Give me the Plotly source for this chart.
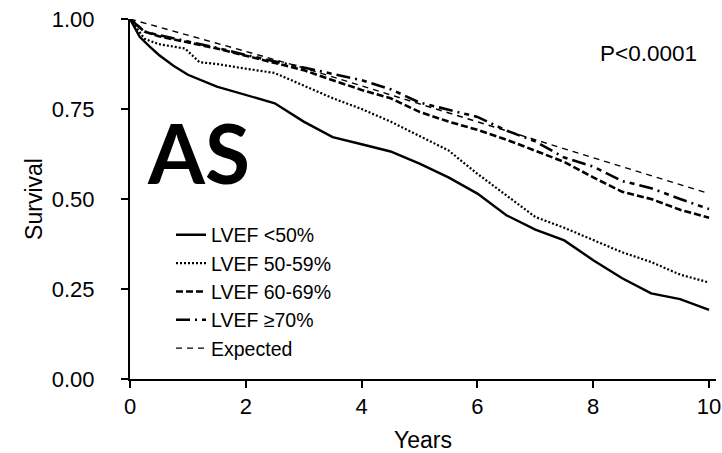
import plotly.graph_objects as go

# ---- data ----
t_lt50 = [0, 0.17, 0.35, 0.5, 0.75, 1.0, 1.5, 2.0, 2.5, 3.0, 3.5, 4.0, 4.5, 5.0, 5.5, 6.0, 6.5, 7.0, 7.5, 8.0, 8.5, 9.0, 9.5, 10.0]
s_lt50 = [1.0, 0.95, 0.922, 0.9, 0.87, 0.845, 0.812, 0.79, 0.766, 0.715, 0.672, 0.652, 0.632, 0.598, 0.56, 0.515, 0.455, 0.415, 0.385, 0.33, 0.28, 0.238, 0.222, 0.192]

t_50_59 = [0, 0.25, 0.5, 0.95, 1.2, 1.5, 2.0, 2.5, 3.0, 3.5, 4.0, 4.5, 5.0, 5.5, 6.0, 6.5, 7.0, 7.5, 8.0, 8.5, 9.0, 9.5, 10.0]
s_50_59 = [1.0, 0.945, 0.93, 0.918, 0.88, 0.875, 0.862, 0.85, 0.815, 0.78, 0.75, 0.715, 0.675, 0.635, 0.57, 0.51, 0.45, 0.42, 0.385, 0.352, 0.325, 0.29, 0.268]

t_60_69 = [0, 0.25, 0.5, 1.0, 1.5, 2.0, 2.5, 3.0, 3.5, 4.0, 4.5, 5.0, 5.5, 6.0, 6.5, 7.0, 7.5, 8.0, 8.5, 9.0, 9.5, 10.0]
s_60_69 = [1.0, 0.965, 0.952, 0.936, 0.918, 0.898, 0.878, 0.858, 0.83, 0.803, 0.78, 0.742, 0.715, 0.692, 0.665, 0.635, 0.603, 0.56, 0.52, 0.5, 0.47, 0.448]

t_ge70 = [0, 0.25, 0.5, 1.0, 1.5, 2.0, 2.5, 3.0, 3.5, 4.0, 4.5, 5.0, 5.5, 6.0, 6.5, 7.0, 7.5, 8.0, 8.5, 9.0, 9.5, 10.0]
s_ge70 = [1.0, 0.965, 0.955, 0.938, 0.92, 0.9, 0.882, 0.865, 0.848, 0.83, 0.805, 0.768, 0.748, 0.728, 0.69, 0.66, 0.615, 0.59, 0.55, 0.53, 0.5, 0.472]

t_exp = [0, 1, 2, 3, 4, 5, 6, 7, 8, 9, 10]
s_exp = [1.0, 0.956, 0.91, 0.864, 0.814, 0.763, 0.713, 0.663, 0.613, 0.565, 0.515]

series_names = ["LVEF <50%", "LVEF 50-59%", "LVEF 60-69%", "LVEF \u226570%", "Expected"]
x_ticks = [0, 2, 4, 6, 8, 10]
y_ticks = [0, 0.25, 0.5, 0.75, 1.0]
y_ticklabels = ["0.00", "0.25", "0.50", "0.75", "1.00"]

FONT = "Liberation Sans, Arial, sans-serif"

fig = go.Figure()
styles = [
    (t_lt50, s_lt50, dict(color="black", width=2.4, dash="solid")),
    (t_50_59, s_50_59, dict(color="black", width=2.2, dash="2px,2px")),
    (t_60_69, s_60_69, dict(color="black", width=2.6, dash="7px,3px")),
    (t_ge70, s_ge70, dict(color="black", width=2.6, dash="14px,5px,2px,5px,5px,5px")),
    (t_exp, s_exp, dict(color="black", width=1.4, dash="6px,5px")),
]
for (tx, sy, ln), name in zip(styles, series_names):
    fig.add_trace(go.Scatter(x=tx, y=sy, mode="lines", name=name, line=ln))

fig.update_layout(
    width=722, height=453,
    margin=dict(l=130, r=6, t=19, b=74),
    paper_bgcolor="white", plot_bgcolor="white",
    font=dict(family=FONT, size=22, color="black"),
    showlegend=True,
    legend=dict(x=0.07, y=0.454, xanchor="left", yanchor="top",
                bgcolor="rgba(0,0,0,0)", font=dict(size=19.5, family=FONT),
                itemwidth=30, tracegroupgap=0),
    xaxis=dict(range=[0, 10.12], tickvals=x_ticks, ticks="outside", ticklen=7,
               tickwidth=2, tickcolor="black", showline=True, linecolor="black",
               linewidth=2, showgrid=False, zeroline=False, automargin=False,
               tickfont=dict(size=22, family=FONT),
               title=dict(text="Years", font=dict(size=23, family=FONT), standoff=14)),
    yaxis=dict(range=[0, 1.0], tickvals=y_ticks, ticktext=y_ticklabels, ticks="outside",
               ticklen=7, tickwidth=2, tickcolor="black", showline=True,
               linecolor="black", linewidth=2, showgrid=False, zeroline=False,
               automargin=False, ticklabelstandoff=22,
               tickfont=dict(size=22, family=FONT),
               title=dict(text="Survival", font=dict(size=23, family=FONT), standoff=3)),
    annotations=[
        dict(text="P<0.0001", xref="paper", yref="paper", x=0.884, y=0.905,
             xanchor="center", yanchor="middle", showarrow=False,
             font=dict(size=22.5, family=FONT, color="black")),
        dict(text="<b>AS</b>", xref="paper", yref="paper", x=0.117, y=0.63,
             xanchor="center", yanchor="middle", showarrow=False,
             font=dict(size=82, family="Lato, Open Sans, sans-serif", color="black")),
    ],
)

fig.write_html("out.html", config={"displayModeBar": False},
               post_script="document.body.style.margin='0';document.body.style.overflow='hidden';")
